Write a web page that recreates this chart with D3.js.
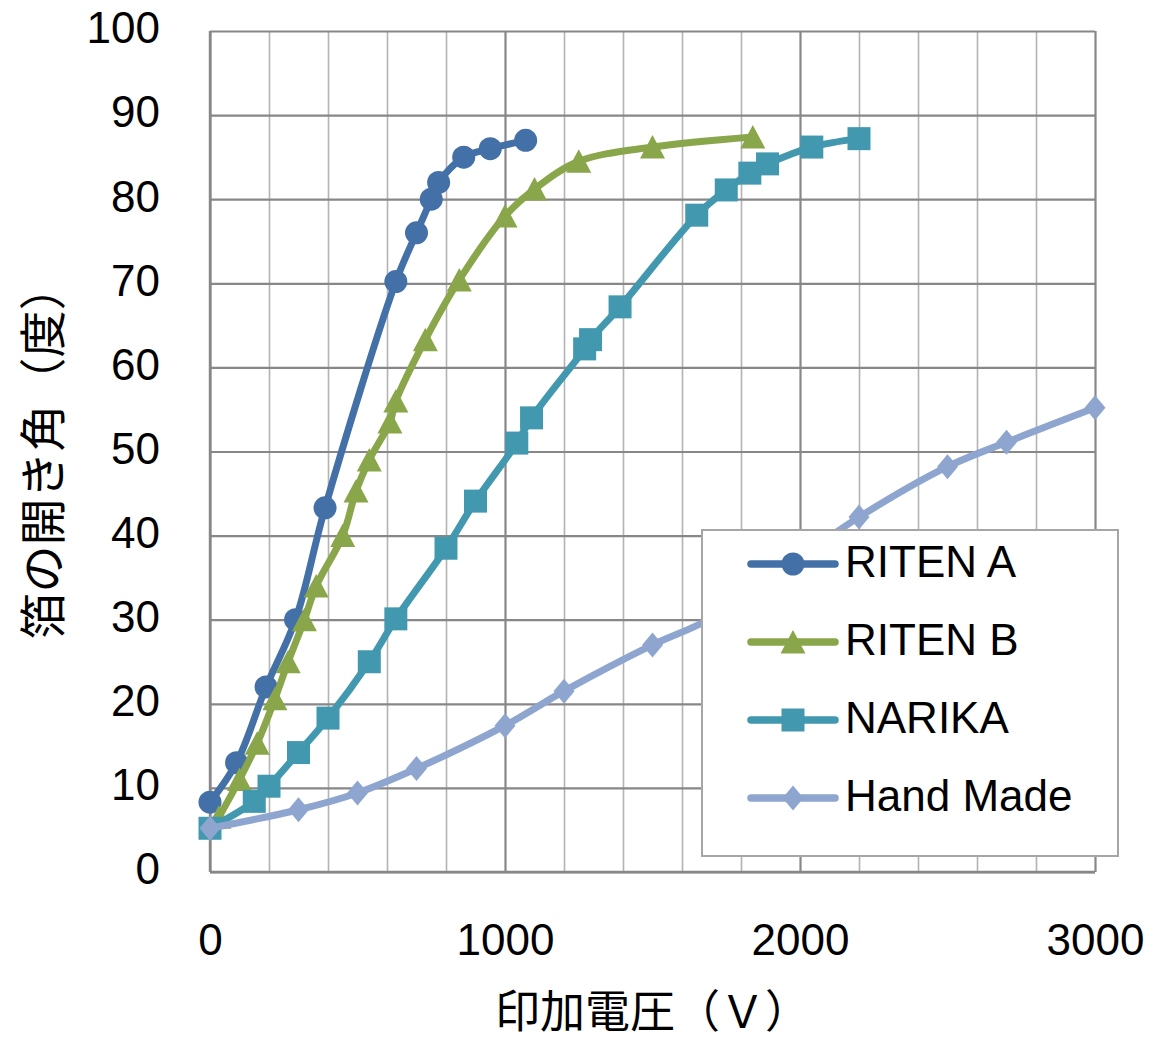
<!DOCTYPE html>
<html>
<head>
<meta charset="utf-8">
<script src="https://cdn.jsdelivr.net/npm/d3@7"></script>
<style>
  body { margin: 0; background: #fff; }
  svg { display: block; }
  text { font-family: "Liberation Sans", Arial, sans-serif; fill: #000; }
  .cjk { font-family: "Noto Sans CJK JP", sans-serif; }
</style>
</head>
<body>
<div id="chart"></div>
<script>
// series data (voltage V, foil angle deg)
const seriesNames = ['RITEN A', 'RITEN B', 'NARIKA', 'Hand Made'];

const voltageA = [0, 90, 190, 290, 390, 630, 700, 750, 775, 860, 950, 1070];
const angleA   = [8.3, 13, 22, 30, 43.3, 70.2, 76, 80, 82, 85, 86, 87];

const voltageB = [30, 100, 160, 220, 265, 320, 360, 450, 495, 540, 610, 630, 730, 845, 1000, 1100, 1250, 1500, 1840];
const angleB   = [6.5, 11, 15.3, 20.6, 25, 30, 34, 40, 45.3, 49, 53.5, 56, 63.3, 70.4, 78, 81.2, 84.5, 86.2, 87.4];

const voltageN = [0, 150, 200, 300, 400, 540, 630, 800, 900, 1040, 1090, 1270, 1290, 1390, 1650, 1750, 1830, 1890, 2040, 2200];
const angleN   = [5.2, 8.4, 10.2, 14.2, 18.3, 25, 30.1, 38.5, 44.1, 51, 54, 62.2, 63.3, 67.2, 78.1, 81.1, 83.1, 84.2, 86.2, 87.2];

const voltageH = [0, 300, 500, 700, 1000, 1200, 1500, 1700, 2200, 2500, 2700, 3000];
const angleH   = [5.2, 7.4, 9.4, 12.3, 17.4, 21.5, 27, 30.2, 42.2, 48.2, 51.1, 55.2];

const xTicks = [0, 1000, 2000, 3000];
const xMinorTicks = d3.range(0, 3001, 200);
const yTicks = d3.range(0, 101, 10);

const xTitle = '印加電圧（Ｖ）';
const yTitle = '箔の開き角（度）';

const series = [
  { name: seriesNames[0], x: voltageA, y: angleA, color: '#4470a8', marker: 'circle' },
  { name: seriesNames[1], x: voltageB, y: angleB, color: '#89a64a', marker: 'triangle' },
  { name: seriesNames[2], x: voltageN, y: angleN, color: '#4198af', marker: 'square' },
  { name: seriesNames[3], x: voltageH, y: angleH, color: '#8ea6cf', marker: 'diamond' }
];

const width = 1149, height = 1042;
const margin = { top: 31, right: 54, bottom: 170, left: 210 };
const plotW = width - margin.left - margin.right;
const plotH = height - margin.top - margin.bottom;

const svg = d3.select('#chart').append('svg')
  .attr('width', width)
  .attr('height', height);

svg.append('rect').attr('width', width).attr('height', height).attr('fill', '#fff');

const g = svg.append('g').attr('transform', `translate(${margin.left},${margin.top})`);

const x = d3.scaleLinear().domain([0, 3000]).range([0, plotW]);
const y = d3.scaleLinear().domain([0, 100]).range([plotH, 0]);

// minor vertical grid
g.append('g')
  .attr('transform', `translate(0,${plotH})`)
  .call(d3.axisBottom(x).tickValues(xMinorTicks.filter(v => v % 1000 !== 0)).tickSize(-plotH).tickFormat(''))
  .call(a => a.select('.domain').remove())
  .call(a => a.selectAll('line').attr('stroke', '#b3b3b3').attr('stroke-width', 1.6));

// major vertical grid
g.append('g')
  .attr('transform', `translate(0,${plotH})`)
  .call(d3.axisBottom(x).tickValues(xTicks).tickSize(-plotH).tickFormat(''))
  .call(a => a.select('.domain').remove())
  .call(a => a.selectAll('line').attr('stroke', '#878787').attr('stroke-width', 2.2));

// horizontal grid
g.append('g')
  .call(d3.axisLeft(y).tickValues(yTicks).tickSize(-plotW).tickFormat(''))
  .call(a => a.select('.domain').remove())
  .call(a => a.selectAll('line').attr('stroke', '#878787').attr('stroke-width', 2.2));

// tick labels
g.append('g')
  .call(d3.axisLeft(y).tickValues(yTicks).tickSize(0).tickPadding(50).tickFormat(d3.format('d')))
  .call(a => a.select('.domain').remove())
  .call(a => a.selectAll('text').attr('font-size', 44).attr('dy', '0.27em')
    .style('font-family', '"Liberation Sans", Arial, sans-serif').attr('fill', '#000'));

g.append('g')
  .attr('transform', `translate(0,${plotH})`)
  .call(d3.axisBottom(x).tickValues(xTicks).tickSize(0).tickPadding(52).tickFormat(d3.format('d')))
  .call(a => a.select('.domain').remove())
  .call(a => a.selectAll('text').attr('font-size', 44)
    .style('font-family', '"Liberation Sans", Arial, sans-serif').attr('fill', '#000'));

// axis lines
g.append('line').attr('x1', 0).attr('x2', plotW).attr('y1', plotH).attr('y2', plotH)
  .attr('stroke', '#878787').attr('stroke-width', 2.4);
g.append('line').attr('x1', 0).attr('x2', 0).attr('y1', 0).attr('y2', plotH)
  .attr('stroke', '#878787').attr('stroke-width', 2.4);

// markers
function markerPath(type) {
  if (type === 'circle') return d3.arc()({ innerRadius: 0, outerRadius: 11.5, startAngle: 0, endAngle: 2 * Math.PI });
  if (type === 'triangle') return 'M0,-12L12.5,11.5L-12.5,11.5Z';
  if (type === 'square') return 'M-11.5,-11.5H11.5V11.5H-11.5Z';
  return 'M0,-12.5L10.5,0L0,12.5L-10.5,0Z';
}

const line = d3.line()
  .x(d => x(d[0]))
  .y(d => y(d[1]))
  .curve(d3.curveCatmullRom.alpha(0.5));

series.forEach(s => {
  const pts = s.x.map((v, i) => [v, s.y[i]]);
  const sg = g.append('g');
  sg.append('path')
    .datum(pts)
    .attr('d', line)
    .attr('fill', 'none')
    .attr('stroke', s.color)
    .attr('stroke-width', 7)
    .attr('stroke-linejoin', 'round')
    .attr('stroke-linecap', 'round');
  sg.selectAll('.pt')
    .data(pts)
    .enter()
    .append('path')
    .attr('class', 'pt')
    .attr('transform', d => `translate(${x(d[0])},${y(d[1])})`)
    .attr('d', markerPath(s.marker))
    .attr('fill', s.color);
});

// legend
const legend = svg.append('g');
legend.append('rect')
  .attr('x', 702).attr('y', 530).attr('width', 416).attr('height', 326)
  .attr('fill', '#fff').attr('stroke', '#a6a6a6').attr('stroke-width', 2);

const items = legend.selectAll('.item')
  .data(series)
  .enter()
  .append('g')
  .attr('class', 'item')
  .attr('transform', (d, i) => `translate(0,${564 + i * 78})`);

items.append('line')
  .attr('x1', 751).attr('x2', 835).attr('y1', 0).attr('y2', 0)
  .attr('stroke', d => d.color).attr('stroke-width', 7.5).attr('stroke-linecap', 'round');

items.append('path')
  .attr('transform', 'translate(793,0)')
  .attr('d', d => markerPath(d.marker))
  .attr('fill', d => d.color);

items.append('text')
  .attr('x', 845).attr('y', 13)
  .attr('font-size', 44)
  .text(d => d.name);

// axis titles
svg.append('text')
  .attr('class', 'cjk')
  .attr('x', margin.left + plotW / 2).attr('y', 1028)
  .attr('text-anchor', 'middle')
  .attr('font-size', 45)
  .text(xTitle);

svg.append('text')
  .attr('class', 'cjk')
  .attr('transform', `translate(39,${margin.top + plotH / 2}) rotate(-90)`)
  .attr('text-anchor', 'middle').attr('dominant-baseline', 'central')
  .attr('font-size', 47)
  .text(yTitle);
</script>
</body>
</html>
